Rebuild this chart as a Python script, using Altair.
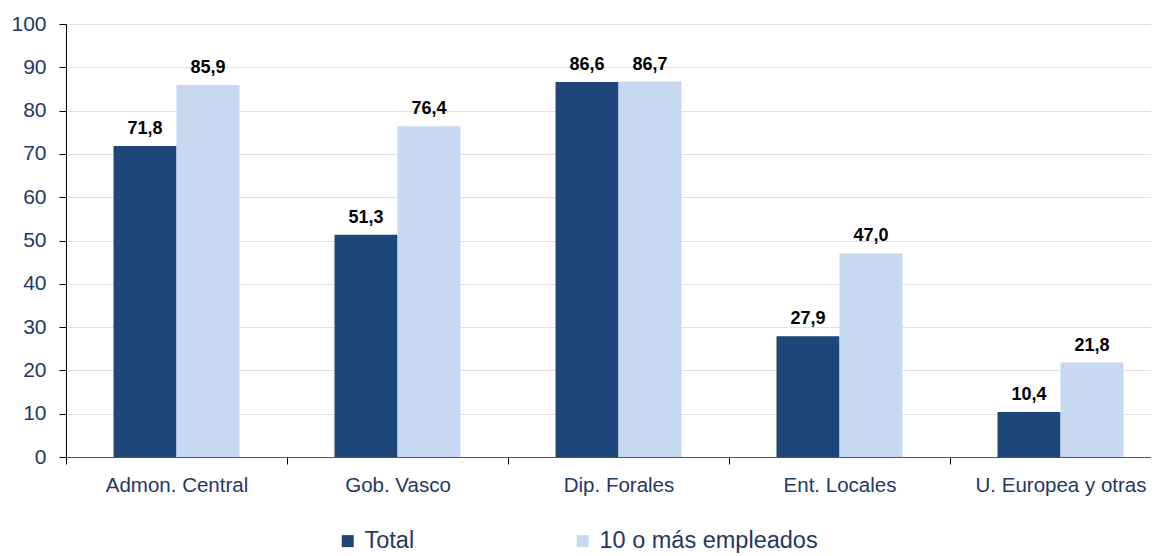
import altair as alt
import pandas as pd

categories = ["Admon. Central", "Gob. Vasco", "Dip. Forales", "Ent. Locales", "U. Europea y otras"]
total = [71.8, 51.3, 86.6, 27.9, 10.4]
diez_mas = [85.9, 76.4, 86.7, 47.0, 21.8]
series = ["Total", "10 o más empleados"]

rows = []
for c, a, b in zip(categories, total, diez_mas):
    rows.append({"cat": c, "serie": series[0], "v": a, "lbl": f"{a:.1f}".replace(".", ",")})
    rows.append({"cat": c, "serie": series[1], "v": b, "lbl": f"{b:.1f}".replace(".", ",")})
df = pd.DataFrame(rows)

FONT = "Liberation Sans"
NAVY = "#1f3864"

x = alt.X("cat:N", sort=categories, title=None,
          scale=alt.Scale(paddingInner=0, paddingOuter=0, range=[0, 1105]),
          axis=alt.Axis(labelAngle=0, tickBand="extent", labelFontSize=20.5, labelColor=NAVY,
                        labelFont=FONT, tickSize=7, tickColor="#000", domainColor="#555",
                        labelPadding=11, grid=False, labelLimit=400))
xo = alt.XOffset("serie:N", sort=series, scale=alt.Scale(paddingInner=0, paddingOuter=0.754))
y = alt.Y("v:Q", title=None, scale=alt.Scale(domain=[0, 100]),
          axis=alt.Axis(values=list(range(0, 101, 10)), labelFontSize=21, labelColor=NAVY,
                        labelFont=FONT, tickSize=7, tickColor="#000", domainColor="#000",
                        gridColor="#b0b0b0", gridDash=[1, 1], gridWidth=0.8, labelPadding=13))

bars = alt.Chart(df).mark_bar().encode(
    x=x, xOffset=xo, y=y,
    color=alt.Color("serie:N", sort=series,
                    scale=alt.Scale(domain=series, range=["#1f4679", "#c6d9f1"]),
                    legend=alt.Legend(title=None, orient="none", legendX=270, legendY=505,
                                      direction="horizontal", symbolType="square", symbolSize=144,
                                      symbolStrokeWidth=0, labelFontSize=23.5, labelFont=FONT,
                                      labelColor=NAVY, columnPadding=156, labelOffset=5,
                                      padding=0, labelLimit=400)),
)

labels = alt.Chart(df).mark_text(baseline="alphabetic", dy=-12, fontSize=18, fontWeight="bold",
                                 font=FONT, color="#000").encode(
    x=alt.X("cat:N", sort=categories), xOffset=xo, y="v:Q", text="lbl:N")

chart = (bars + labels).properties(
    width=1085, height=433,
    autosize=alt.AutoSizeParams(type="none"),
    padding={"left": 58, "top": 16, "right": 0, "bottom": 96},
).configure_view(stroke=None)

chart.save("out.html", embed_options={"renderer": "svg", "actions": False})
